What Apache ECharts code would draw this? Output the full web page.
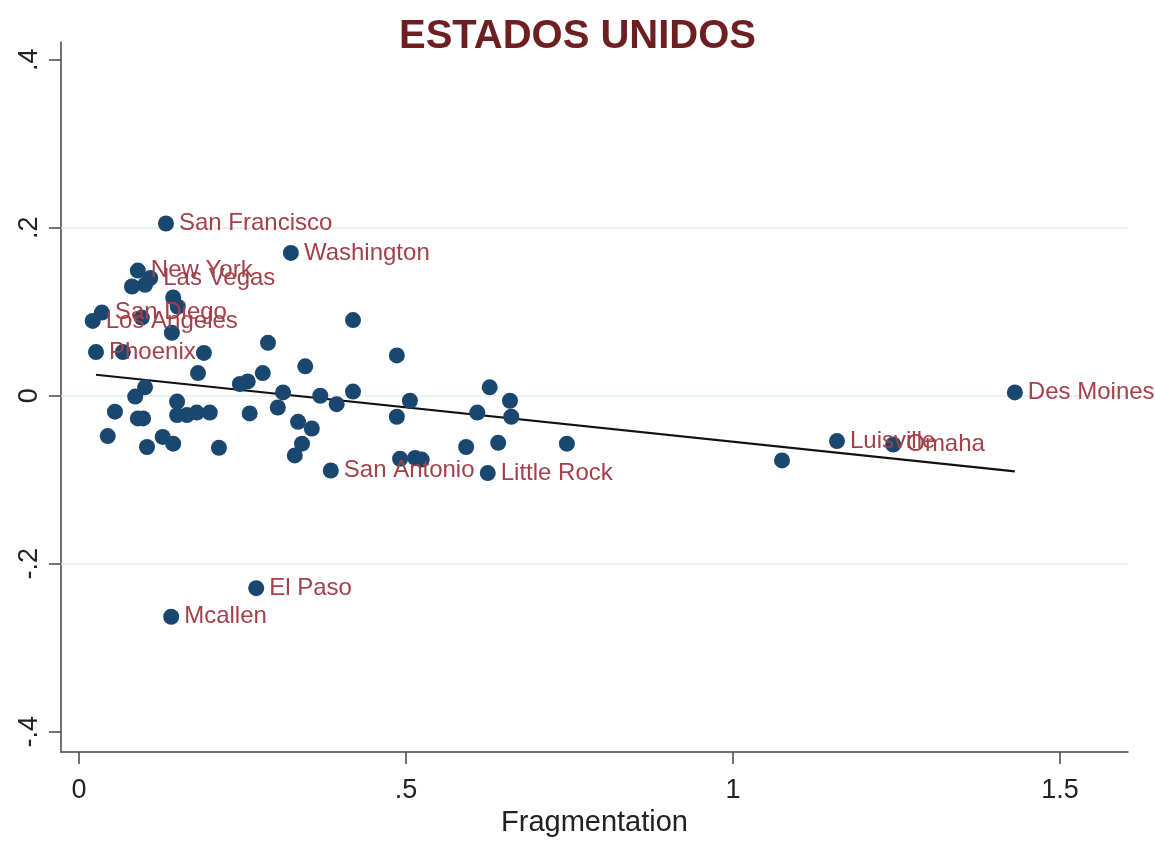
<!DOCTYPE html>
<html>
<head>
<meta charset="utf-8">
<script src="https://cdn.jsdelivr.net/npm/echarts@6/dist/echarts.min.js"></script>
<style>
html,body{margin:0;padding:0;background:#fff;}
#chart{width:1155px;height:841px;}
</style>
</head>
<body>
<div id="chart"></div>
<script>
// ---- data ----
const fragX = [0.133,0.324,0.090,0.109,0.101,0.081,0.144,0.151,0.035,0.021,0.096,0.142,0.026,0.067,0.191,0.289,0.419,0.346,0.182,0.281,0.246,0.258,0.101,0.086,0.312,0.369,0.419,0.394,0.055,0.090,0.098,0.150,0.150,0.165,0.180,0.200,0.261,0.304,0.335,0.356,0.044,0.104,0.128,0.144,0.214,0.341,0.330,0.385,0.486,0.506,0.486,0.628,0.659,0.609,0.661,0.592,0.641,0.746,0.491,0.514,0.524,0.625,1.431,1.159,1.245,1.075,0.271,0.141];
const yVals = [0.205,0.170,0.149,0.140,0.132,0.130,0.117,0.106,0.099,0.089,0.093,0.075,0.052,0.052,0.051,0.063,0.090,0.035,0.027,0.027,0.014,0.017,0.010,-0.001,0.004,0.000,0.005,-0.010,-0.019,-0.027,-0.027,-0.007,-0.023,-0.023,-0.020,-0.020,-0.021,-0.014,-0.031,-0.039,-0.048,-0.061,-0.049,-0.057,-0.062,-0.057,-0.071,-0.089,0.048,-0.006,-0.025,0.010,-0.006,-0.020,-0.025,-0.061,-0.056,-0.057,-0.075,-0.074,-0.076,-0.092,0.004,-0.054,-0.058,-0.077,-0.229,-0.263];
const cityNames = ['San Francisco','Washington','New York','Las Vegas','','','','','San Diego','Los Angeles','','','Phoenix','','','','','','','','','','','','','','','','','','','','','','','','','','','','','','','','','','','San Antonio','','','','','','','','','','','','','','Little Rock','Des Moines','Luisville','Omaha','','El Paso','Mcallen'];
const fitX = [0.026, 1.431];
const fitY = [0.025, -0.090];
const xTicks = [0, 0.5, 1, 1.5];
const xTickLabels = ['0', '.5', '1', '1.5'];
const yTicks = [-0.4, -0.2, 0, 0.2, 0.4];
const yTickLabels = ['-.4', '-.2', '0', '.2', '.4'];
const gridYs = [-0.2, 0, 0.2];

const pts = fragX.map((x, i) => ({value: [x, yVals[i]], name: cityNames[i]}));
const fit = fitX.map((x, i) => [x, fitY[i]]);

const FONT = '"Liberation Sans", Arial, sans-serif';
const chart = echarts.init(document.getElementById('chart'), null, {renderer: 'canvas'});
chart.setOption({
  animation: false,
  backgroundColor: '#ffffff',
  title: {
    text: 'ESTADOS UNIDOS',
    left: 'center', top: 12,
    textStyle: {fontFamily: FONT, fontSize: 40, fontWeight: 'bold', color: '#6e1f22'}
  },
  grid: {left: 61, right: 27, top: 42, bottom: 89, containLabel: false, outerBoundsMode: 'none'},
  xAxis: {
    type: 'value', min: -0.0275, max: 1.604,
    name: 'Fragmentation', nameLocation: 'middle', nameGap: 48,
    nameTextStyle: {fontFamily: FONT, fontSize: 29, color: '#222'},
    axisLine: {show: true, onZero: false, lineStyle: {color: '#444', width: 1.5}},
    axisTick: {show: true, length: 12, customValues: xTicks, lineStyle: {color: '#444', width: 1.5}},
    axisLabel: {customValues: xTicks, margin: 25, fontFamily: FONT, fontSize: 27, color: '#222',
      formatter: v => xTickLabels[xTicks.findIndex(t => Math.abs(t - v) < 1e-9)]},
    splitLine: {show: false}
  },
  yAxis: {
    type: 'value', min: -0.424, max: 0.421,
    axisLine: {show: true, onZero: false, lineStyle: {color: '#444', width: 1.5}},
    axisTick: {show: true, length: 12, customValues: yTicks, lineStyle: {color: '#444', width: 1.5}},
    axisLabel: {customValues: yTicks, rotate: 90, margin: 18, fontFamily: FONT, fontSize: 27, color: '#222',
      formatter: v => yTickLabels[yTicks.findIndex(t => Math.abs(t - v) < 1e-9)]},
    splitLine: {show: false}
  },
  series: [
    {
      type: 'line', data: fit, symbol: 'none', silent: true, z: 3,
      lineStyle: {color: '#111', width: 2.2},
      markLine: {
        silent: true, symbol: 'none', z: 1,
        label: {show: false},
        lineStyle: {color: '#e1ecee', width: 1.5, type: 'solid'},
        data: gridYs.map(v => ({yAxis: v}))
      }
    },
    {
      type: 'scatter', data: pts, symbol: 'circle', symbolSize: 16, z: 4,
      itemStyle: {color: '#1a476f', opacity: 1},
      label: {
        show: true, position: 'right', distance: 5,
        formatter: p => p.name || '',
        fontFamily: FONT, fontSize: 24, color: '#a3404a'
      },
      labelLayout: {hideOverlap: false}
    }
  ]
});
</script>
</body>
</html>
